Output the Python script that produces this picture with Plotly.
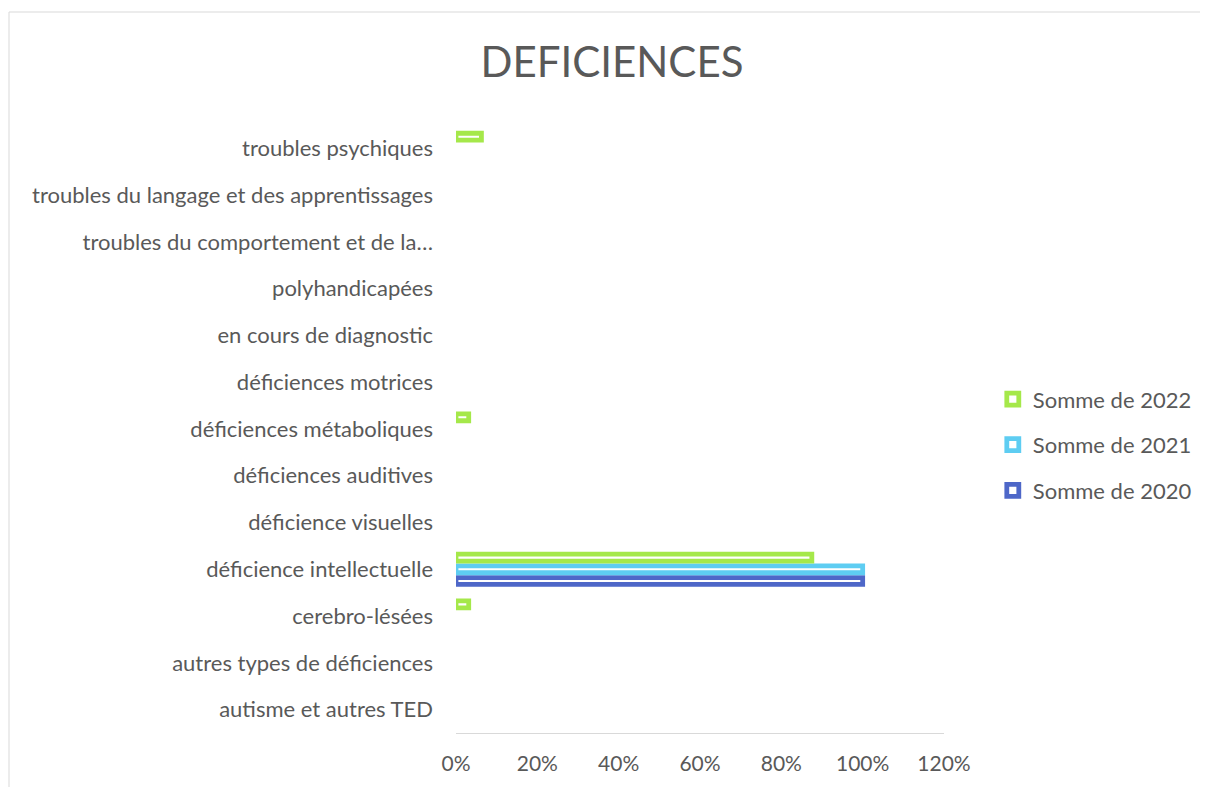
import plotly.graph_objects as go

categories = [
    "autisme et autres TED",
    "autres types de déficiences",
    "cerebro-lésées",
    "déficience intellectuelle",
    "déficience visuelles",
    "déficiences auditives",
    "déficiences métaboliques",
    "déficiences motrices",
    "en cours de diagnostic",
    "polyhandicapées",
    "troubles du comportement et de la…",
    "troubles du langage et des apprentissages",
    "troubles psychiques",
]
# empty cells are None (nothing drawn)
somme_2020 = [None, None, None, 1.0, None, None, None, None, None, None, None, None, None]
somme_2021 = [None, None, None, 1.0, None, None, None, None, None, None, None, None, None]
somme_2022 = [None, None, 0.03125, 0.875, None, None, 0.03125, None, None, None, None, None, 0.0625]

series = [
    ("Somme de 2020", somme_2020, "#4e67c8", 3),
    ("Somme de 2021", somme_2021, "#5ecdf2", 2),
    ("Somme de 2022", somme_2022, "#a5e84a", 1),
]

FONT = "Lato, Open Sans, sans-serif"
GREY = "#595959"

# plot area in figure coords (page puts the figure 8px in)
L, T, R, B = 448, 117, 936, 725
W, H = 1208, 787
pw, ph = R - L, B - T

fig = go.Figure()
for name, vals, col, rank in series:
    fig.add_trace(go.Bar(
        y=categories, x=vals, name=name, orientation="h",
        marker=dict(color="white", line=dict(color=col, width=4.8)),
        legendgroup=name, legendrank=rank,
    ))

fig.update_layout(
    width=W, height=H,
    margin=dict(l=L, r=W - R, t=T, b=H - B),
    paper_bgcolor="white", plot_bgcolor="white",
    barmode="group", bargap=0.25, bargroupgap=0.41,
    font=dict(family=FONT, color=GREY, size=22),
    title=dict(text="DEFICIENCES", x=0.5, xref="container", xanchor="center",
               y=1 - 54 / H, yref="container", yanchor="middle",
               font=dict(size=42, color=GREY, family=FONT)),
    showlegend=True,
    legend=dict(x=1.1, y=0.474, xanchor="left", yanchor="middle",
                traceorder="grouped", tracegroupgap=14,
                font=dict(size=22, color=GREY), itemwidth=30),
    xaxis=dict(range=[0, 1.2], tickvals=[0, 0.2, 0.4, 0.6, 0.8, 1.0, 1.2],
               tickformat=".0%", showgrid=False, zeroline=False,
               showline=True, linecolor="#d9d9d9", linewidth=1,
               ticks="", ticklabelstandoff=12,
               tickfont=dict(size=21, color=GREY)),
    yaxis=dict(showgrid=False, zeroline=False, showline=False, ticks="",
               ticklabelstandoff=22, tickfont=dict(size=22, color=GREY),
               range=[-0.5, 12.5]),
)

fig.add_shape(type="rect", xref="paper", yref="paper",
              x0=(1 - L) / pw, x1=(W + 30 - L) / pw,
              y0=(B - H - 30) / ph, y1=(B - 4) / ph,
              line=dict(color="#d9d9d9", width=1), layer="below")

fig.write_html("out.html")
